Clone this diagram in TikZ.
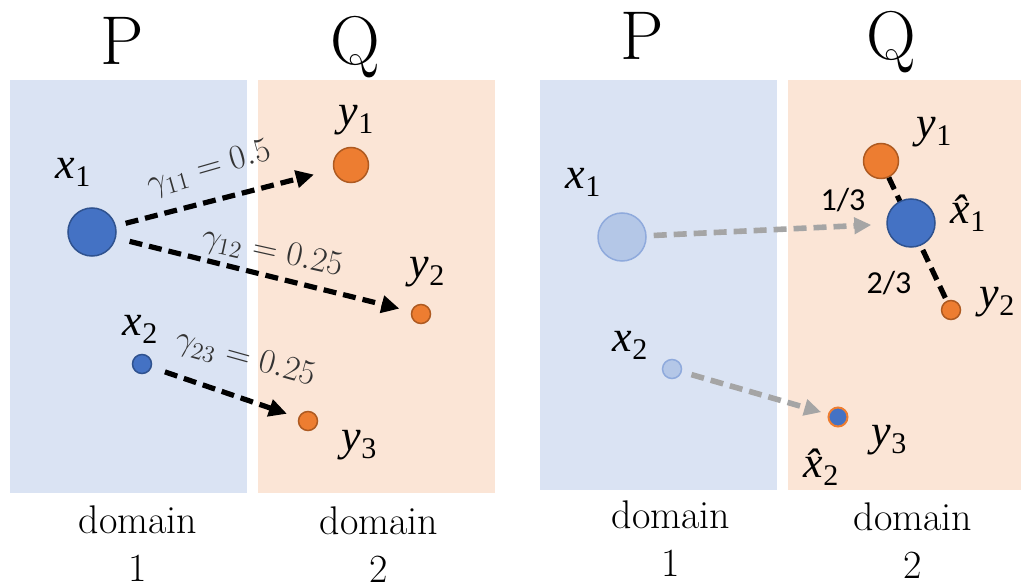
\documentclass[tikz,border=0pt]{standalone}
\usepackage{fontspec}
\usetikzlibrary{arrows.meta}
\newfontfamily\labfont{Liberation Serif}
\newfontfamily\fracfont{Carlito}
\definecolor{SrcFill}{HTML}{4472C4}
\definecolor{SrcDraw}{HTML}{2F528F}
\definecolor{TgtFill}{HTML}{ED7D31}
\definecolor{TgtDraw}{HTML}{AE5A21}
\definecolor{FadeFill}{HTML}{B4C7E7}
\definecolor{FadeDraw}{HTML}{8FAADC}
\definecolor{DomBlue}{HTML}{DAE3F3}
\definecolor{DomOrange}{HTML}{FBE5D6}
\definecolor{MoveGray}{HTML}{A5A5A5}
\newcommand{\ptname}[2]{{\labfont\itshape #1}\raisebox{-4pt}{\labfont\fontsize{15}{16}\selectfont #2}}

\begin{document}
\begin{tikzpicture}[x=0.5pt, y=-0.5pt]
    \tikzset{
        ptdot/.style={circle, inner sep=0pt, line width=0.75pt},
        srcbig/.style={ptdot, minimum size=24pt, fill=SrcFill, draw=SrcDraw},
        srcsmall/.style={ptdot, minimum size=9.5pt, fill=SrcFill, draw=SrcDraw},
        fadebig/.style={ptdot, minimum size=24pt, fill=FadeFill, draw=FadeDraw},
        fadesmall/.style={ptdot, minimum size=9.5pt, fill=FadeFill, draw=FadeDraw},
        tgtbig/.style={ptdot, minimum size=17.5pt, fill=TgtFill, draw=TgtDraw},
        tgtsmall/.style={ptdot, minimum size=9.5pt, fill=TgtFill, draw=TgtDraw},
        ptlabel/.style={inner sep=0pt, font=\labfont\fontsize{22}{24}\selectfont},
        fraclabel/.style={inner sep=0pt, font=\fracfont\fontsize{16}{18}\selectfont},
        planlabel/.style={inner sep=0pt, text=black!80, font=\fontsize{17.5}{20}\selectfont},
        distname/.style={inner sep=0pt, anchor=base, font=\fontsize{34.5}{40}\selectfont},
        domname/.style={inner sep=0pt, anchor=north, align=center,
            font=\fontsize{20}{24}\selectfont},
        planarrow/.style={line width=2.6pt, dash pattern=on 6.5pt off 3.5pt,
            -{Triangle[length=9pt, width=8.5pt]}},
        movearrow/.style={draw=MoveGray, line width=2.8pt, dash pattern=on 6.5pt off 3.5pt,
            -{Triangle[length=8.5pt, width=8pt]}},
        baryline/.style={line width=2.6pt, dash pattern=on 6.5pt off 3.5pt}
    }
    \useasboundingbox (0,0) rectangle (1021,587);

    % left: transport plan
    \fill[DomBlue] (10,80) rectangle (247,493);
    \fill[DomOrange] (258,80) rectangle (495,493);
    \node[distname] (lp) at (122,65) {P};
    \node[distname] (lq) at (355,65) {Q};
    \node[domname] (ld1) at (138,505) {domain\\1};
    \node[domname] (ld2) at (379,506) {domain\\2};

    \node[srcbig] (lx1) at (92,232) {};
    \node[srcsmall] (lx2) at (142,364) {};
    \node[tgtbig] (ly1) at (351,165) {};
    \node[tgtsmall] (ly2) at (421,314) {};
    \node[tgtsmall] (ly3) at (308,421) {};
    \node[ptlabel] (lx1t) at (73,172) {\ptname{x}{1}};
    \node[ptlabel] (lx2t) at (140,329) {\ptname{x}{2}};
    \node[ptlabel] (ly1t) at (356,120) {\ptname{y}{1}};
    \node[ptlabel] (ly2t) at (427,272) {\ptname{y}{2}};
    \node[ptlabel] (ly3t) at (359,445) {\ptname{y}{3}};

    \draw[planarrow, shorten <=5pt, shorten >=10pt] (lx1) -- (ly1);
    \draw[planarrow, shorten <=7pt, shorten >=6pt] (lx1) -- (ly2);
    \draw[planarrow, shorten <=7pt, shorten >=6pt] (lx2) -- (ly3);
    \node[planlabel, rotate=16] (g11) at (209,169) {$\gamma_{11}=0.5$};
    \node[planlabel, rotate=-12.5] (g12) at (272,253) {$\gamma_{12}=0.25$};
    \node[planlabel, rotate=-15.5] (g23) at (245,359) {$\gamma_{23}=0.25$};

    % right: barycentric projection
    \fill[DomBlue] (540,80) rectangle (777,490);
    \fill[DomOrange] (788,80) rectangle (1021,490);
    \node[distname] (rp) at (642,60) {P};
    \node[distname] (rq) at (891,60) {Q};
    \node[domname] (rd1) at (671,500) {domain\\1};
    \node[domname] (rd2) at (913,502) {domain\\2};

    \node[fadebig] (rx1) at (622,237) {};
    \node[fadesmall] (rx2) at (672,369) {};
    \node[tgtbig] (ry1) at (881,161) {};
    \node[tgtsmall] (ry2) at (951,310) {};
    \draw[baryline] (ry1) -- (ry2);
    \node[srcbig] (rh1) at (911,223) {};
    \node[srcsmall, draw=TgtFill, line width=1pt] (rh2) at (838,417) {};
    \node[ptlabel] (rx1t) at (583,182) {\ptname{x}{1}};
    \node[ptlabel] (rx2t) at (630,345) {\ptname{x}{2}};
    \node[ptlabel] (ry1t) at (934,132) {\ptname{y}{1}};
    \node[ptlabel] (ry2t) at (997,302) {\ptname{y}{2}};
    \node[ptlabel] (ry3t) at (889,440) {\ptname{y}{3}};
    \node[ptlabel] (rh1t) at (968,213) {\ptname{\^{x}}{1}};
    \node[ptlabel] (rh2t) at (821,467) {\ptname{\^{x}}{2}};
    \node[fraclabel] (w1) at (843,200) {1/3};
    \node[fraclabel] (w2) at (889,283) {2/3};

    \draw[movearrow, shorten <=3.5pt, shorten >=7.5pt] (rx1) -- (rh1);
    \draw[movearrow, shorten <=5pt, shorten >=3.5pt] (rx2) -- (rh2);
\end{tikzpicture}
\end{document}
